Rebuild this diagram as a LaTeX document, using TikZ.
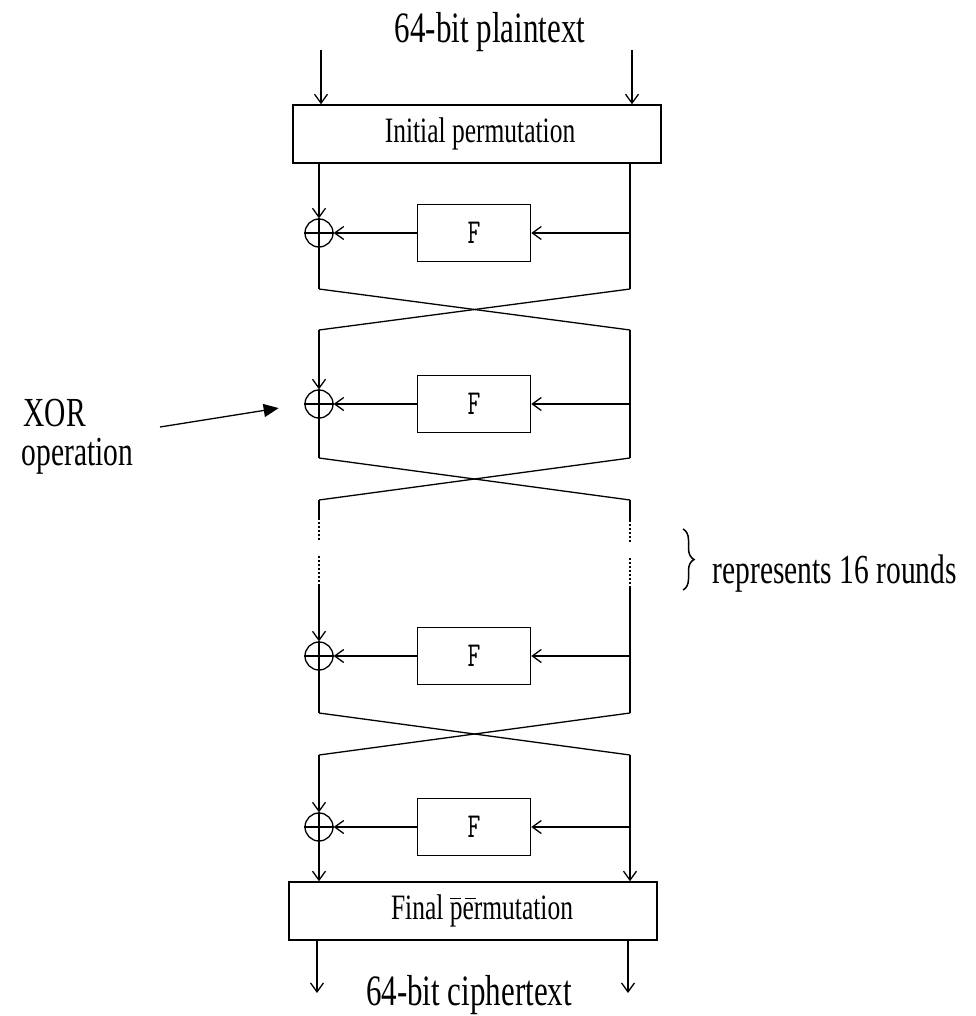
\documentclass[tikz,border=0pt]{standalone}
\usepackage{fontspec}
\setmainfont{Liberation Serif}
\usetikzlibrary{arrows.meta,decorations.pathreplacing}
\newcommand\vstr[1]{\scalebox{1}[1.4]{#1}}
\begin{document}
\begin{tikzpicture}[x=1pt,y=-1pt, line width=1.3pt,
  barb/.style={-{Straight Barb[length=9pt,width=13pt,line width=1.3pt]}},
  permbox/.style={draw, line width=1.5pt, minimum width=368pt, minimum height=58pt, inner sep=0pt, font=\fontsize{25.5}{28}\selectfont},
  fnbox/.style={draw, line width=1.5pt, minimum width=113pt, minimum height=57pt, inner sep=0pt, font=\ttfamily\fontsize{25}{27}\selectfont},
  xorc/.style={draw, circle, minimum size=28pt, inner sep=0pt},
  biglbl/.style={inner sep=0pt, anchor=base, font=\fontsize{31}{34}\selectfont},
  sidelbl/.style={inner sep=0pt, anchor=base west, font=\fontsize{29.5}{32}\selectfont},
  dotl/.style={line width=1.2pt, dash pattern=on 1.5pt off 2.5pt}]

\useasboundingbox (0,0) rectangle (975,1016);

% top
\node[biglbl] (pt) at (490,43) {\vstr{64-bit plaintext}};
\coordinate (inL) at (321,50);
\coordinate (inR) at (632,50);
\node[permbox] (ip) at (477,134) {\hspace*{6pt}\vstr{Initial permutation}};
\draw[barb] (inL) -- (inL |- ip.north);
\draw[barb] (inR) -- (inR |- ip.north);

% rounds
\foreach \i/\y in {1/233,2/404,3/656,4/827}{
  \node[xorc] (x\i) at (319,\y) {};
  \draw (x\i.north) -- (x\i.south) (x\i.west) -- (x\i.east);
  \node[fnbox] (f\i) at (474,\y) {\vstr{F}};
  \coordinate (r\i) at (630,\y);
  \draw[barb] (r\i) -- (f\i.east);
  \draw[barb] (f\i.west) -- (x\i.east);
}

% crossings
\foreach \i/\t/\b in {1/289/330,2/458/500,3/713/755}{
  \coordinate (ctl\i) at (319,\t);
  \coordinate (ctr\i) at (630,\t);
  \coordinate (cbl\i) at (319,\b);
  \coordinate (cbr\i) at (630,\b);
  \draw (ctl\i) -- (cbr\i);
  \draw (ctr\i) -- (cbl\i);
}

% round 1
\draw[barb] (ip.south -| x1) -- (x1.north);
\draw (x1.south) -- (ctl1);
\draw (ip.south -| r1) -- (ctr1);
% round 2
\draw[barb] (cbl1) -- (x2.north);
\draw (x2.south) -- (ctl2);
\draw (cbr1) -- (ctr2);

% dotted continuation
\coordinate (dl1) at (319,518); \coordinate (dl2) at (319,540);
\coordinate (dl3) at (319,556); \coordinate (dl4) at (319,585);
\coordinate (dr1) at (630,520); \coordinate (dr2) at (630,542);
\coordinate (dr3) at (630,558); \coordinate (dr4) at (630,587);
\draw (cbl2) -- (dl1);
\draw[dotl] (dl1) -- (dl2);
\draw[dotl] (dl3) -- (dl4);
\draw (cbr2) -- (dr1);
\draw[dotl] (dr1) -- (dr2);
\draw[dotl] (dr3) -- (dr4);

% round 3
\draw[barb] (dl4) -- (x3.north);
\draw (x3.south) -- (ctl3);
\draw (dr4) -- (ctr3);

% round 4 and final permutation
\node[permbox] (fp) at (473,911) {\hspace*{18pt}\vstr{Final permutation}};
\draw[line width=1pt] (450,898) -- (461,898) (465,898) -- (476,898);
\draw[barb] (cbl3) -- (x4.north);
\draw[barb] (x4.south) -- (x4.south |- fp.north);
\draw[barb] (cbr3) -- (cbr3 |- fp.north);

% outputs
\coordinate (outL) at (317,993);
\coordinate (outR) at (628,993);
\draw[barb] (fp.south -| outL) -- (outL);
\draw[barb] (fp.south -| outR) -- (outR);
\node[biglbl] (ct) at (469,1005) {\vstr{64-bit ciphertext}};

% XOR label
\node[sidelbl] (xorl) at (23,426) {\vstr{XOR}};
\node[sidelbl] (opl) at (21,465) {\vstr{operation}};
\coordinate (xa) at (160,427);
\draw[-{Triangle[length=15pt,width=13pt]}, shorten >=26pt] (xa) -- (x2.west);

% brace
\coordinate (bt) at (683,529);
\coordinate (bb) at (683,590);
\draw[decorate, decoration={brace, amplitude=11pt}, line width=1.5pt] (bt) -- (bb);
\node[sidelbl] (rep) at (712,583) {\vstr{represents 16 rounds}};
\end{tikzpicture}
\end{document}
